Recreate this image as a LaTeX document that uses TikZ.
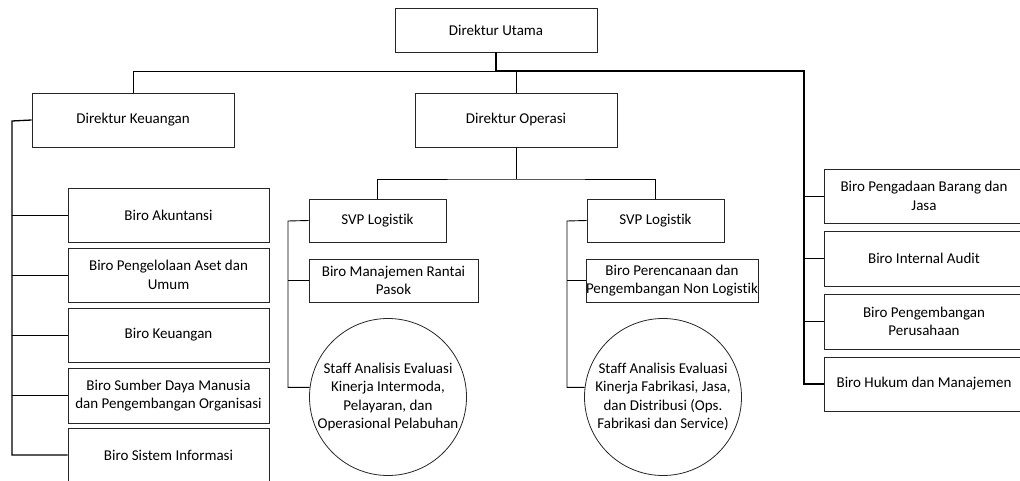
\documentclass[tikz,border=0pt]{standalone}
\usepackage{fontspec}
\setmainfont[RawFeature={-liga}]{Carlito}
\usepackage{tikz}
\usetikzlibrary{positioning,calc}

\begin{document}
\begin{tikzpicture}[
  x=1pt, y=-1pt,
  every node/.style={font=\fontsize{15}{18.5}\selectfont},
  unit/.style={draw=black!85, line width=0.8pt, rectangle, align=center, inner sep=0pt},
  staff/.style={draw=black!85, line width=0.8pt, circle, align=center, inner sep=0pt, minimum size=157pt},
  link/.style={draw=black, line width=0.9pt},
  thicklink/.style={draw=black, line width=1.7pt},
  sidelink/.style={draw=black, line width=1.3pt}
]
  \useasboundingbox (0,0) rectangle (1020,481);
  \node[unit, minimum width=202pt, minimum height=44pt] (utama) at (496,30) {Direktur Utama};
  \node[unit, minimum width=202pt, minimum height=54pt] (keu) at (133,120) {Direktur Keuangan};
  \node[unit, minimum width=202pt, minimum height=54pt] (ops) at (516,120) {Direktur Operasi};
  \node[unit, minimum width=201pt, minimum height=54pt] (akun) at (168.5,215) {Biro Akuntansi};
  \node[unit, minimum width=201pt, minimum height=54pt] (aset) at (168.5,275) {Biro Pengelolaan Aset dan\\Umum};
  \node[unit, minimum width=201pt, minimum height=54pt] (uang) at (168.5,335) {Biro Keuangan};
  \node[unit, minimum width=201pt, minimum height=55pt] (sdm) at (168.5,395.5) {Biro Sumber Daya Manusia\\dan Pengembangan Organisasi};
  \node[unit, minimum width=201pt, minimum height=54pt] (sisinfo) at (168.5,455) {Biro Sistem Informasi};
  \node[unit, minimum width=137pt, minimum height=43pt] (svpa) at (377.5,220.5) {SVP Logistik};
  \node[unit, minimum width=169pt, minimum height=43pt] (rantai) at (393.5,280.5) {Biro Manajemen Rantai\\Pasok};
  \node[staff] (staffa) at (388,397) {Staff Analisis Evaluasi\\Kinerja Intermoda,\\Pelayaran, dan\\Operasional Pelabuhan};
  \node[unit, minimum width=137pt, minimum height=43pt] (svpb) at (655.5,220.5) {SVP Logistik};
  \node[unit, minimum width=170pt, minimum height=43pt] (rencana) at (672,280.5) {Biro Perencanaan dan\\Pengembangan Non Logistik};
  \node[staff] (staffb) at (663,397) {Staff Analisis Evaluasi\\Kinerja Fabrikasi, Jasa,\\dan Distribusi (Ops.\\Fabrikasi dan Service)};
  \node[unit, minimum width=200pt, minimum height=54pt] (pengadaan) at (924,196) {Biro Pengadaan Barang dan\\Jasa};
  \node[unit, minimum width=200pt, minimum height=55pt] (audit) at (924,258.5) {Biro Internal Audit};
  \node[unit, minimum width=200pt, minimum height=55pt] (kembang) at (924,321.5) {Biro Pengembangan\\Perusahaan};
  \node[unit, minimum width=200pt, minimum height=54pt] (hukum) at (924,384) {Biro Hukum dan Manajemen};
  \coordinate (hub) at (496,71);
  \coordinate (rtop) at (804,71);
  \coordinate (ltr) at (12,121);
  \coordinate (opsbar) at (516,179);
  \coordinate (atr) at (288,221);
  \coordinate (btr) at (567,221);
  \draw[link] (hub) -| (keu.north);
  \draw[link] (ops.north) -- (ops.north |- hub);
  \draw[thicklink] (utama.south) |- (rtop) |- (hukum.west);
  \foreach \n in {pengadaan,audit,kembang} {\draw[link] (\n.west) -- (\n.west -| rtop);}
  \draw[sidelink] (keu.west) -- (ltr) |- (sisinfo.west);
  \foreach \n in {akun,aset,uang,sdm} {\draw[link] (\n.west) -- (\n.west -| ltr);}
  \draw[link] (ops.south) -- (opsbar);
  \draw[link] (svpa.north) |- (opsbar) -| (svpb.north);
  \draw[link] (svpa.west) -- (atr) |- (staffa.173);
  \draw[link] (rantai.west) -- (rantai.west -| atr);
  \draw[link] (svpb.west) -- (btr) |- (staffb.173);
  \draw[link] (rencana.west) -- (rencana.west -| btr);
\end{tikzpicture}
\end{document}
